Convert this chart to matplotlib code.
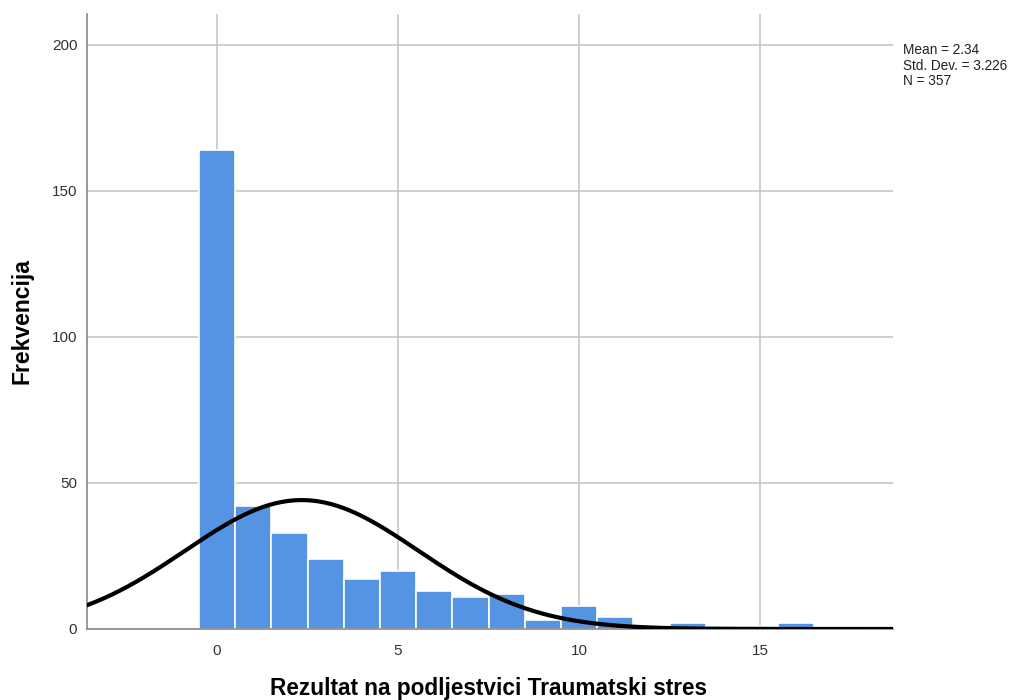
import numpy as np
import matplotlib
matplotlib.use('Agg')
import matplotlib.pyplot as plt

plt.rcParams['font.family'] = ['Liberation Sans', 'DejaVu Sans']

# Histogram data (score -> frequency)
scores = [0, 1, 2, 3, 4, 5, 6, 7, 8, 9, 10, 11, 12, 13, 14, 15, 16]
freqs = [164, 42, 33, 24, 17, 20, 13, 11, 12, 3, 8, 4, 0, 2, 1, 1, 2]
mean = 2.34
sd = 3.226
n = 357
yticks = [0, 50, 100, 150, 200]
xticks = [0, 5, 10, 15]

fig = plt.figure(figsize=(10.25, 7), dpi=100)
ax = fig.add_axes([87/1025, 1 - 629/700, (893-87)/1025, (629-14)/700])

ax.set_axisbelow(True)
ax.grid(True, color='#c8c8c8', linewidth=1.2)
ax.bar(scores, freqs, width=1.0, color='#5594E2', edgecolor='white', linewidth=1.2, zorder=2)

# normal curve scaled to counts
xs = np.linspace(-3.59, 18.67, 400)
ys = n * 1.0 / (sd * np.sqrt(2 * np.pi)) * np.exp(-0.5 * ((xs - mean) / sd) ** 2)
ax.plot(xs, ys, color='black', linewidth=3, zorder=3)

ax.set_xlim(-3.59, 18.67)
ax.set_ylim(0, 210.6)
ax.set_xticks(xticks)
ax.set_yticks(yticks)
ax.tick_params(length=0, labelsize=11, colors='#333333')
ax.tick_params(axis='x', pad=11)
ax.tick_params(axis='y', pad=7)
for s in ['top', 'right']:
    ax.spines[s].set_visible(False)
for s in ['left', 'bottom']:
    ax.spines[s].set_color('#888888')
    ax.spines[s].set_linewidth(1.2)

ax.set_xlabel('Rezultat na podljestvici Traumatski stres', fontsize=16.3, fontweight='bold')
ax.set_ylabel('Frekvencija', fontsize=16.5, fontweight='bold')
ax.xaxis.set_label_coords((489 - 87) / 806, (629 - 688) / 615)
ax.yaxis.set_label_coords((22 - 87) / 806, (629 - 321) / 615)
ax.xaxis.label.set_va('center')
ax.yaxis.label.set_va('center')

fig.text(903/1025, 1 - 43/700, 'Mean = %.2f\nStd. Dev. = %.3f\nN = %d' % (mean, sd, n),
         fontsize=9.8, va='top', ha='left', linespacing=1.15, color='#222222')

fig.savefig('out.png', dpi=100)
